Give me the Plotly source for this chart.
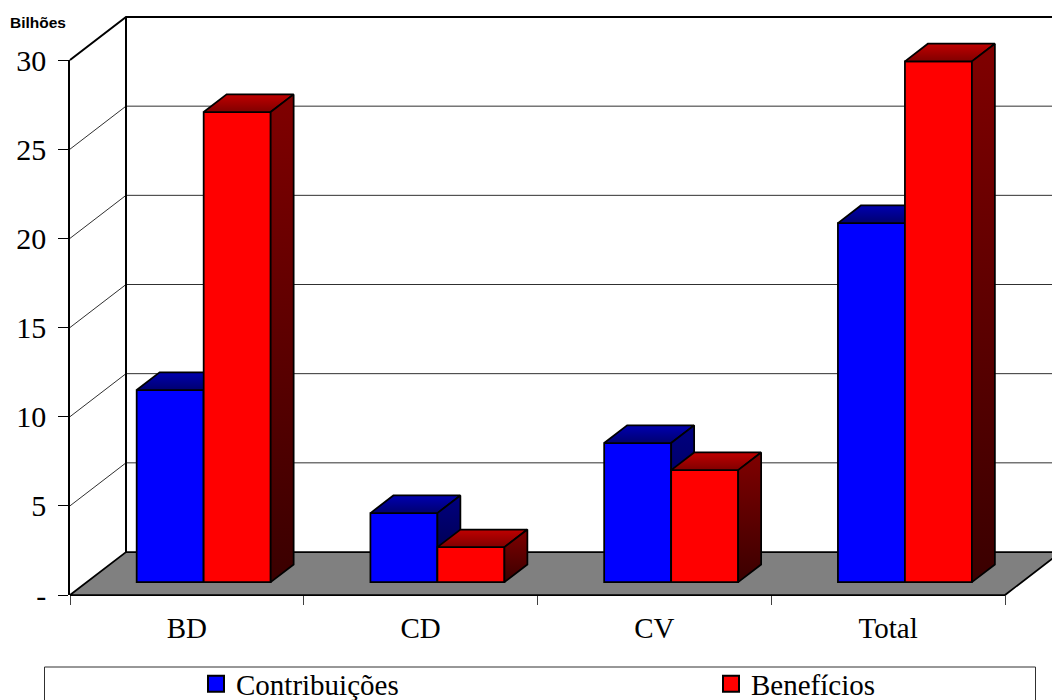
import plotly.graph_objects as go

# Series
categories = ["BD", "CD", "CV", "Total"]
contribuicoes = [10.77, 3.87, 7.80, 20.13]
beneficios = [26.36, 1.96, 6.28, 29.20]
y_ticks = [0, 5, 10, 15, 20, 25, 30]
y_tick_labels = ["-", "5", "10", "15", "20", "25", "30"]

# Canvas and projection of the pseudo-3D box
W, H = 1052, 700
LEFT, RIGHT, BOTTOM, TOP = 70, 1005, 595, 60
UX = (RIGHT - LEFT) / len(categories)      # pixels per category
UY = (BOTTOM - TOP) / 30                   # pixels per billion
DX, DY = 56 / UX, 43 / UY                  # depth of the box in axis units
BAR_W = 67 / UX
NEAR, FAR = 0.30, 0.71                     # depth span occupied by the bars
X_RANGE = [-LEFT / UX, (W - LEFT) / UX]
Y_RANGE = [(BOTTOM - H) / UY, BOTTOM / UY]

SERIF = "Liberation Serif, Times New Roman, serif"
INK = "#000000"

fig = go.Figure()


def poly(xs, ys, layer, fill=None, gradient=None, width=1.75, color=INK):
    """Closed or open outline on one of the canvas-sized layers."""
    kw = {}
    if gradient:
        kw = dict(fill="toself", fillgradient=dict(
            type="vertical", colorscale=[[0, gradient[0]], [1, gradient[1]]]))
    elif fill:
        kw = dict(fill="toself", fillcolor=fill)
    fig.add_trace(go.Scatter(
        x=xs, y=ys, mode="lines", line=dict(color=color, width=width),
        xaxis=f"x{layer}" if layer > 1 else "x",
        yaxis=f"y{layer}" if layer > 1 else "y",
        showlegend=False, hoverinfo="skip", **kw))


# Floor, walls and gridlines
poly([0, DX, 4 + DX, 4, 0], [0, DY, DY, 0, 0], 1, fill="#808080")
for v in y_ticks[1:]:
    heavy = v == y_ticks[-1]
    poly([0, DX, X_RANGE[1] + 0.2], [v, v + DY, v + DY], 1,
         width=2 if heavy else 1, color=INK if heavy else "#303030")
poly([DX, DX], [DY, 30 + DY], 1, width=2)


def draw_series(values, offset, layer, front, top, side):
    """One series: front faces as bars, top and side faces as gradient polygons."""
    base = NEAR * DY
    centers = [i + 0.5 + NEAR * DX + offset for i in range(len(values))]
    fig.add_trace(go.Bar(
        x=centers, y=values, base=base, width=BAR_W,
        marker=dict(color=front, line=dict(color=INK, width=1.75)),
        xaxis=f"x{layer}", yaxis=f"y{layer}", showlegend=False, hoverinfo="skip"))
    span_x, span_y = (FAR - NEAR) * DX, (FAR - NEAR) * DY
    for c, v in zip(centers, values):
        l, r, t = c - BAR_W / 2, c + BAR_W / 2, base + v
        poly([l, l + span_x, r + span_x, r, l], [t, t + span_y, t + span_y, t, t],
             layer, gradient=top)
        poly([r, r + span_x, r + span_x, r, r], [base, base + span_y, t + span_y, t, base],
             layer, gradient=side)


draw_series(contribuicoes, -BAR_W / 2, 2, "#0000FF", ("#000070", "#0000B0"), ("#00003C", "#000080"))
draw_series(beneficios, BAR_W / 2, 3, "#FF0000", ("#800000", "#C00000"), ("#3A0000", "#800000"))

# Legend keys, one legend per series so each key sits at its own position
for name, color, legend_id in (("Contribuições", "#0000FF", "legend"), ("Benefícios", "#FF0000", "legend2")):
    fig.add_trace(go.Scatter(
        x=[None], y=[None], mode="markers", name=name, xaxis="x3", yaxis="y3", legend=legend_id,
        showlegend=True,
        marker=dict(symbol="square", size=16, color=color, line=dict(color=INK, width=2))))

# Visible value and category axes
fig.add_trace(go.Scatter(
    x=categories, y=[0] * len(categories), mode="markers", marker=dict(opacity=0),
    xaxis="x4", yaxis="y4", showlegend=False, hoverinfo="skip"))

hidden = dict(visible=False, fixedrange=True)
layout_axes = dict(
    xaxis=dict(range=X_RANGE, domain=[0, 1], anchor="y", **hidden),
    yaxis=dict(range=Y_RANGE, domain=[0, 1], anchor="x", **hidden),
    xaxis2=dict(range=X_RANGE, overlaying="x", anchor="y2", **hidden),
    yaxis2=dict(range=Y_RANGE, overlaying="y", anchor="x2", **hidden),
    xaxis3=dict(range=X_RANGE, overlaying="x", anchor="y3", **hidden),
    yaxis3=dict(range=Y_RANGE, overlaying="y", anchor="x3", **hidden),
    xaxis4=dict(
        type="category", categoryorder="array", categoryarray=categories,
        range=[-0.5, 3.5], domain=[LEFT / W, RIGHT / W], anchor="y4",
        tickson="boundaries", ticks="outside", ticklen=9, tickcolor="#404040", tickwidth=1,
        showline=False, showgrid=False, zeroline=False,
        tickfont=dict(family=SERIF, size=29, color=INK), ticklabelstandoff=13),
    yaxis4=dict(
        range=[0, 30], domain=[1 - BOTTOM / H, 1 - TOP / H], anchor="x4",
        tickvals=y_ticks, ticktext=y_tick_labels,
        ticks="outside", ticklen=10, tickcolor=INK, tickwidth=1,
        showline=True, linecolor=INK, linewidth=1.75, showgrid=False, zeroline=False,
        tickfont=dict(family=SERIF, size=30, color=INK), ticklabelstandoff=6),
)

legend_style = dict(
    orientation="h", xanchor="left", y=1 - 684 / H, yanchor="middle", bgcolor="rgba(0,0,0,0)",
    itemclick=False, itemdoubleclick=False,
    font=dict(family=SERIF, size=29, color=INK))

fig.update_layout(
    width=W, height=H, autosize=False,
    margin=dict(l=0, r=0, t=0, b=0, pad=0, autoexpand=False),
    paper_bgcolor="white", plot_bgcolor="rgba(0,0,0,0)",
    barmode="overlay", **layout_axes,
    legend=dict(x=196 / W, **legend_style),
    legend2=dict(x=711 / W, **legend_style),
    annotations=[dict(
        text="<b>Bilhões</b>", x=8 / W, y=1 - 22 / H, xref="paper", yref="paper",
        xanchor="left", yanchor="middle", showarrow=False,
        font=dict(family="Liberation Sans, Arial, sans-serif", size=15.5, color=INK))],
    shapes=[dict(type="rect", xref="paper", yref="paper",
                 x0=44.5 / W, x1=1035.5 / W, y0=-0.02, y1=1 - 667 / H,
                 line=dict(color="#303030", width=1), fillcolor="rgba(0,0,0,0)")],
)

fig.write_html("out.html")
